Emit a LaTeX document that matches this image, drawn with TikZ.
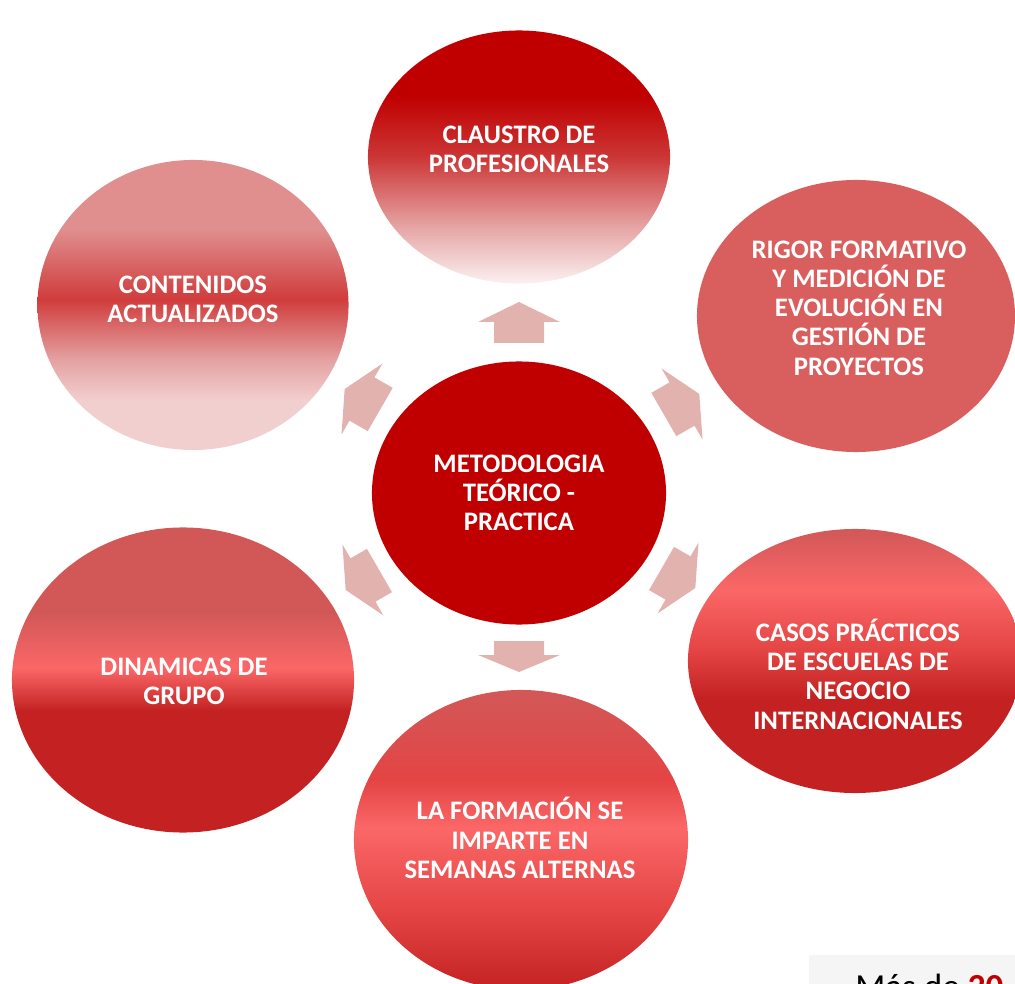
\documentclass[tikz,border=0pt]{standalone}
\usepackage{fontspec}
\setmainfont{Carlito}
\usepackage{tikz}
\usetikzlibrary{shapes.geometric}
\definecolor{CoreRed}{HTML}{C00000}
\definecolor{RigorRed}{HTML}{D95F5F}
\definecolor{ArrowPink}{HTML}{E2B2AF}
\definecolor{BoxGray}{HTML}{F5F5F5}
% claustro
\definecolor{ClaMid}{HTML}{CC3636}
\definecolor{ClaMidLow}{HTML}{E6A6A6}
\definecolor{ClaLow}{HTML}{FCF0F0}
% contenidos
\definecolor{ConTop}{HTML}{E08E8E}
\definecolor{ConMid}{HTML}{D03C3C}
\definecolor{ConMidLow}{HTML}{E4A2A2}
\definecolor{ConLow}{HTML}{F2CFCF}
% casos / dinamicas / formacion
\definecolor{WarmTop}{HTML}{D25858}
\definecolor{WarmBright}{HTML}{FB6767}
\definecolor{WarmMid}{HTML}{E44444}
\definecolor{WarmLow}{HTML}{C42222}
\pgfdeclareverticalshading{claustroShade}{100bp}{color(0bp)=(ClaLow); color(25bp)=(ClaLow); color(36bp)=(ClaMidLow); color(50bp)=(ClaMid); color(62bp)=(CoreRed); color(100bp)=(CoreRed)}
\pgfdeclareverticalshading{contenidosShade}{100bp}{color(0bp)=(ConLow); color(25bp)=(ConLow); color(33.5bp)=(ConLow); color(40.5bp)=(ConMidLow); color(51bp)=(ConMid); color(63bp)=(ConTop); color(100bp)=(ConTop)}
\pgfdeclareverticalshading{casosShade}{100bp}{color(0bp)=(WarmLow); color(25bp)=(WarmLow); color(43bp)=(WarmLow); color(52bp)=(WarmMid); color(63.5bp)=(WarmBright); color(75bp)=(WarmTop); color(100bp)=(WarmTop)}
\pgfdeclareverticalshading{dinamicasShade}{100bp}{color(0bp)=(WarmLow); color(25bp)=(WarmLow); color(45bp)=(WarmLow); color(52bp)=(WarmBright); color(61bp)=(WarmTop); color(75bp)=(WarmTop); color(100bp)=(WarmTop)}
\pgfdeclareverticalshading{formacionShade}{100bp}{color(0bp)=(WarmLow); color(25bp)=(WarmLow); color(38bp)=(WarmMid); color(52bp)=(WarmBright); color(60bp)=(WarmMid); color(75bp)=(WarmTop); color(100bp)=(WarmTop)}

\begin{document}
\begin{tikzpicture}[x=0.025cm,y=-0.025cm,
  bubble/.style={ellipse,draw=none,inner sep=0pt},
  label/.style={text=white,align=center,font=\bfseries\fontsize{19}{20.8}\selectfont},
  blockarrow/.style={fill=ArrowPink}
]
\useasboundingbox (0,0) rectangle (1015,984);
% circles
\node[bubble,fill=CoreRed,minimum width=7.35cm,minimum height=6.575cm] (metodo) at (519,493) {};
\node[bubble,shading=claustroShade,minimum width=7.55cm,minimum height=6.325cm] (claustro) at (519,157) {};
\node[bubble,shading=contenidosShade,minimum width=7.775cm,minimum height=7.25cm] (contenidos) at (193,305) {};
\node[bubble,fill=RigorRed,minimum width=7.95cm,minimum height=6.8cm] (rigor) at (856,316) {};
\node[bubble,shading=casosShade,minimum width=8.35cm,minimum height=6.6cm] (casos) at (855,661) {};
\node[bubble,shading=dinamicasShade,minimum width=8.55cm,minimum height=7.625cm] (dinamicas) at (183,680) {};
\node[bubble,shading=formacionShade,minimum width=8.35cm,minimum height=7.5cm] (formacion) at (521,840) {};
% texts
\node[label] (metodoTxt) at (519,493) {METODOLOGIA\\TEÓRICO -\\PRACTICA};
\node[label] (claustroTxt) at (519,149) {CLAUSTRO DE\\PROFESIONALES};
\node[label] (contenidosTxt) at (193,299) {CONTENIDOS\\ACTUALIZADOS};
\node[label] (rigorTxt) at (859,308) {RIGOR FORMATIVO\\Y MEDICIÓN DE\\EVOLUCIÓN EN\\GESTIÓN DE\\PROYECTOS};
\node[label] (casosTxt) at (858,674) {CASOS PRÁCTICOS\\DE ESCUELAS DE\\NEGOCIO\\INTERNACIONALES};
\node[label] (dinamicasTxt) at (184,681) {DINAMICAS DE\\GRUPO};
\node[label] (formacionTxt) at (520,838) {LA FORMACIÓN SE\\IMPARTE EN\\SEMANAS ALTERNAS};
% arrows
\foreach \cx/\cy/\ang/\tail/\tip in {519/322/90/21/20,362/399/150/21/20,682/404/30/21/20,
    363/580/210/19/20,678/578/330/19/20,519/655/270/14/17}
  \fill[blockarrow,shift={(\cx,\cy)},rotate=\ang]
    (-\tail,-25) -- (0,-25) -- (0,-41) -- (\tip,0) -- (0,41) -- (0,25) -- (-\tail,25) -- cycle;
% corner box
\node[fill=BoxGray,anchor=north west,minimum width=5.5cm,minimum height=1.5cm] (masBox) at (809,955) {};
\node[anchor=base west,inner sep=0pt,font=\fontsize{25}{30}\selectfont] (masTxt) at (855,998)
  {Más de \textcolor{CoreRed}{\bfseries 20}};
\end{tikzpicture}
\end{document}
